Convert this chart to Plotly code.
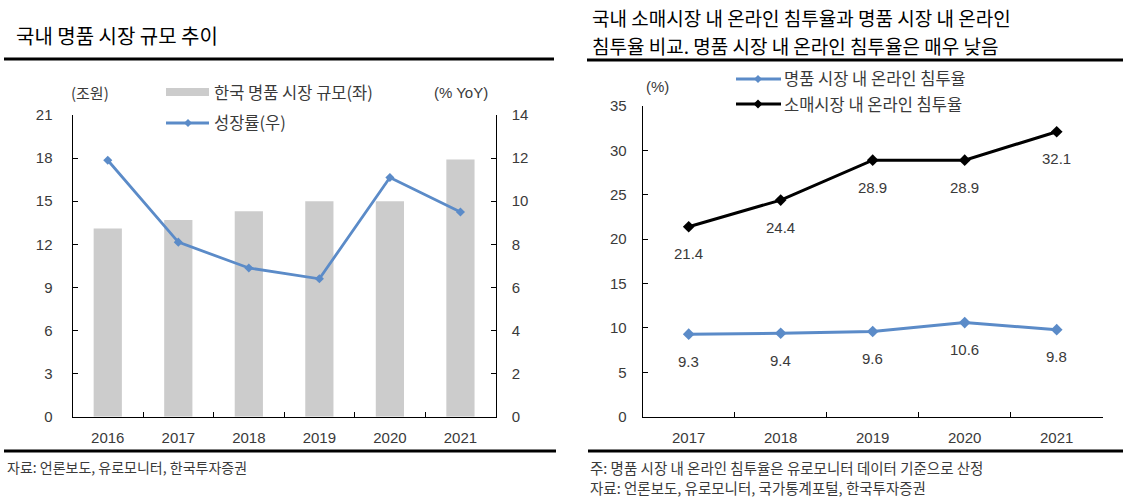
import plotly.graph_objects as go

W, H = 1130, 504

# ---- data ----
years_left = ["2016", "2017", "2018", "2019", "2020", "2021"]
market_size = [13.1, 13.7, 14.3, 15.0, 15.0, 17.9]      # 조원 (left axis)
growth_rate = [11.9, 8.1, 6.9, 6.4, 11.1, 9.5]         # % YoY (right axis)

years_right = ["2017", "2018", "2019", "2020", "2021"]
luxury_online = [9.3, 9.4, 9.6, 10.6, 9.8]
retail_online = [21.4, 24.4, 28.9, 28.9, 32.1]

BLUE = "#5B8BC8"
GRAY = "#CCCCCC"
TXT = "#3A3A3A"
NUMFONT = "Liberation Sans, Noto Sans CJK KR"
KRFONT = "Noto Sans CJK KR"


def px(x):
    return x / W


def py(y):
    return 1 - y / H


fig = go.Figure()

# left chart
fig.add_trace(go.Bar(x=years_left, y=market_size, marker=dict(color=GRAY, line=dict(width=0)),
                     width=0.4, xaxis="x", yaxis="y", showlegend=False, hoverinfo="skip"))
fig.add_trace(go.Scatter(x=years_left, y=growth_rate, mode="lines+markers",
                         line=dict(color=BLUE, width=2.8),
                         marker=dict(symbol="diamond", size=7, color=BLUE),
                         xaxis="x", yaxis="y2", showlegend=False, hoverinfo="skip"))

# right chart
fig.add_trace(go.Scatter(x=years_right, y=luxury_online, mode="lines+markers",
                         line=dict(color=BLUE, width=3),
                         marker=dict(symbol="diamond", size=9, color=BLUE),
                         xaxis="x2", yaxis="y3", showlegend=False, hoverinfo="skip"))
fig.add_trace(go.Scatter(x=years_right, y=retail_online, mode="lines+markers",
                         line=dict(color="black", width=3),
                         marker=dict(symbol="diamond", size=9, color="black"),
                         xaxis="x2", yaxis="y3", showlegend=False, hoverinfo="skip"))

annotations = []
for i, v in enumerate(luxury_online):
    annotations.append(dict(x=i, y=v, xref="x2", yref="y3", text=f"{v:.1f}", showarrow=False,
                            yshift=-27, font=dict(family=NUMFONT, size=15, color=TXT)))
for i, v in enumerate(retail_online):
    annotations.append(dict(x=i, y=v, xref="x2", yref="y3", text=f"{v:.1f}", showarrow=False,
                            yshift=-27, font=dict(family=NUMFONT, size=15, color=TXT)))


def ptext(x, y, text, size=15, xanchor="left", family=KRFONT, color=TXT):
    annotations.append(dict(x=px(x), y=py(y), xref="paper", yref="paper", text=text,
                            showarrow=False, xanchor=xanchor, yanchor="middle",
                            font=dict(family=family, size=size, color=color)))


# titles
ptext(14, 36, "국내 명품 시장 규모 추이", size=20, color="black")
ptext(590, 18, "국내 소매시장 내 온라인 침투율과 명품 시장 내 온라인", size=19, color="black")
ptext(590, 45, "침투율 비교. 명품 시장 내 온라인 침투율은 매우 낮음", size=19, color="black")

# unit labels
ptext(90, 92, "(조원)", size=15, xanchor="center")
ptext(461, 92, "(% YoY)", size=15, xanchor="center", family=NUMFONT)
ptext(657, 86, "(%)", size=15, xanchor="center", family=NUMFONT)

# legend texts
ptext(212, 92, "한국 명품 시장 규모(좌)", size=16.5)
ptext(212, 122, "성장률(우)", size=16.5)
ptext(782, 78, "명품 시장 내 온라인 침투율", size=16.5)
ptext(782, 104, "소매시장 내 온라인 침투율", size=16.5)

# sources
ptext(5, 467, "자료: 언론보도, 유로모니터, 한국투자증권", size=14)
ptext(588, 467, "주: 명품 시장 내 온라인 침투율은 유로모니터 데이터 기준으로 산정", size=14.5)
ptext(588, 487, "자료: 언론보도, 유로모니터, 국가통계포털, 한국투자증권", size=14.5)

shapes = []


def hline(x0, x1, y, width=2.5, color="black"):
    shapes.append(dict(type="line", xref="paper", yref="paper", x0=px(x0), x1=px(x1),
                       y0=py(y), y1=py(y), line=dict(color=color, width=width)))


def diamond(cx, cy, r, color):
    path = (f"M {px(cx - r)} {py(cy)} L {px(cx)} {py(cy - r)} "
            f"L {px(cx + r)} {py(cy)} L {px(cx)} {py(cy + r)} Z")
    shapes.append(dict(type="path", xref="paper", yref="paper", path=path,
                       fillcolor=color, line=dict(color=color, width=0)))


# rule lines
hline(4, 554, 59, 3)
hline(587, 1123, 60, 3)
hline(4, 556, 451, 3)
hline(588, 1123, 451, 3)

# legend swatches
shapes.append(dict(type="rect", xref="paper", yref="paper", x0=px(166), x1=px(209),
                   y0=py(88), y1=py(96), fillcolor=GRAY, line=dict(width=0)))
hline(166, 209, 123, 3, BLUE)
diamond(188, 123, 4, BLUE)
hline(736, 781, 79, 3, BLUE)
diamond(758, 79, 4, BLUE)
hline(736, 781, 104, 3, "black")
diamond(758, 104, 4.5, "black")

axis_common = dict(showline=True, linecolor="black", linewidth=1, ticks="inside", ticklen=5,
                   tickcolor="black", tickwidth=1, showgrid=False, zeroline=False,
                   automargin=False, tickfont=dict(family=NUMFONT, size=15, color=TXT))

fig.update_layout(
    width=W, height=H,
    margin=dict(l=0, r=0, t=0, b=0),
    paper_bgcolor="white", plot_bgcolor="white",
    showlegend=False,
    xaxis=dict(domain=[px(72.5), px(495.7)], anchor="y", type="category",
               range=[-0.5, len(years_left) - 0.5],
               tickson="boundaries", ticklabelstandoff=7, **axis_common),
    yaxis=dict(domain=[py(416.7), py(115)], anchor="x", range=[0, 21], tickvals=list(range(0, 22, 3)),
               ticklabelstandoff=16, **axis_common),
    yaxis2=dict(overlaying="y", anchor="x", side="right", range=[0, 14],
                tickvals=list(range(0, 15, 2)), ticklabelstandoff=12, **axis_common),
    xaxis2=dict(domain=[px(642.7), px(1102.7)], anchor="y3", type="category",
                range=[-0.5, len(years_right) - 0.5],
                tickson="boundaries", ticklabelstandoff=7, **axis_common),
    yaxis3=dict(domain=[py(416.7), py(106)], anchor="x2", range=[0, 35],
                tickvals=list(range(0, 36, 5)), ticklabelstandoff=12, **axis_common),
    annotations=annotations,
    shapes=shapes,
)

fig.write_html("out.html")
